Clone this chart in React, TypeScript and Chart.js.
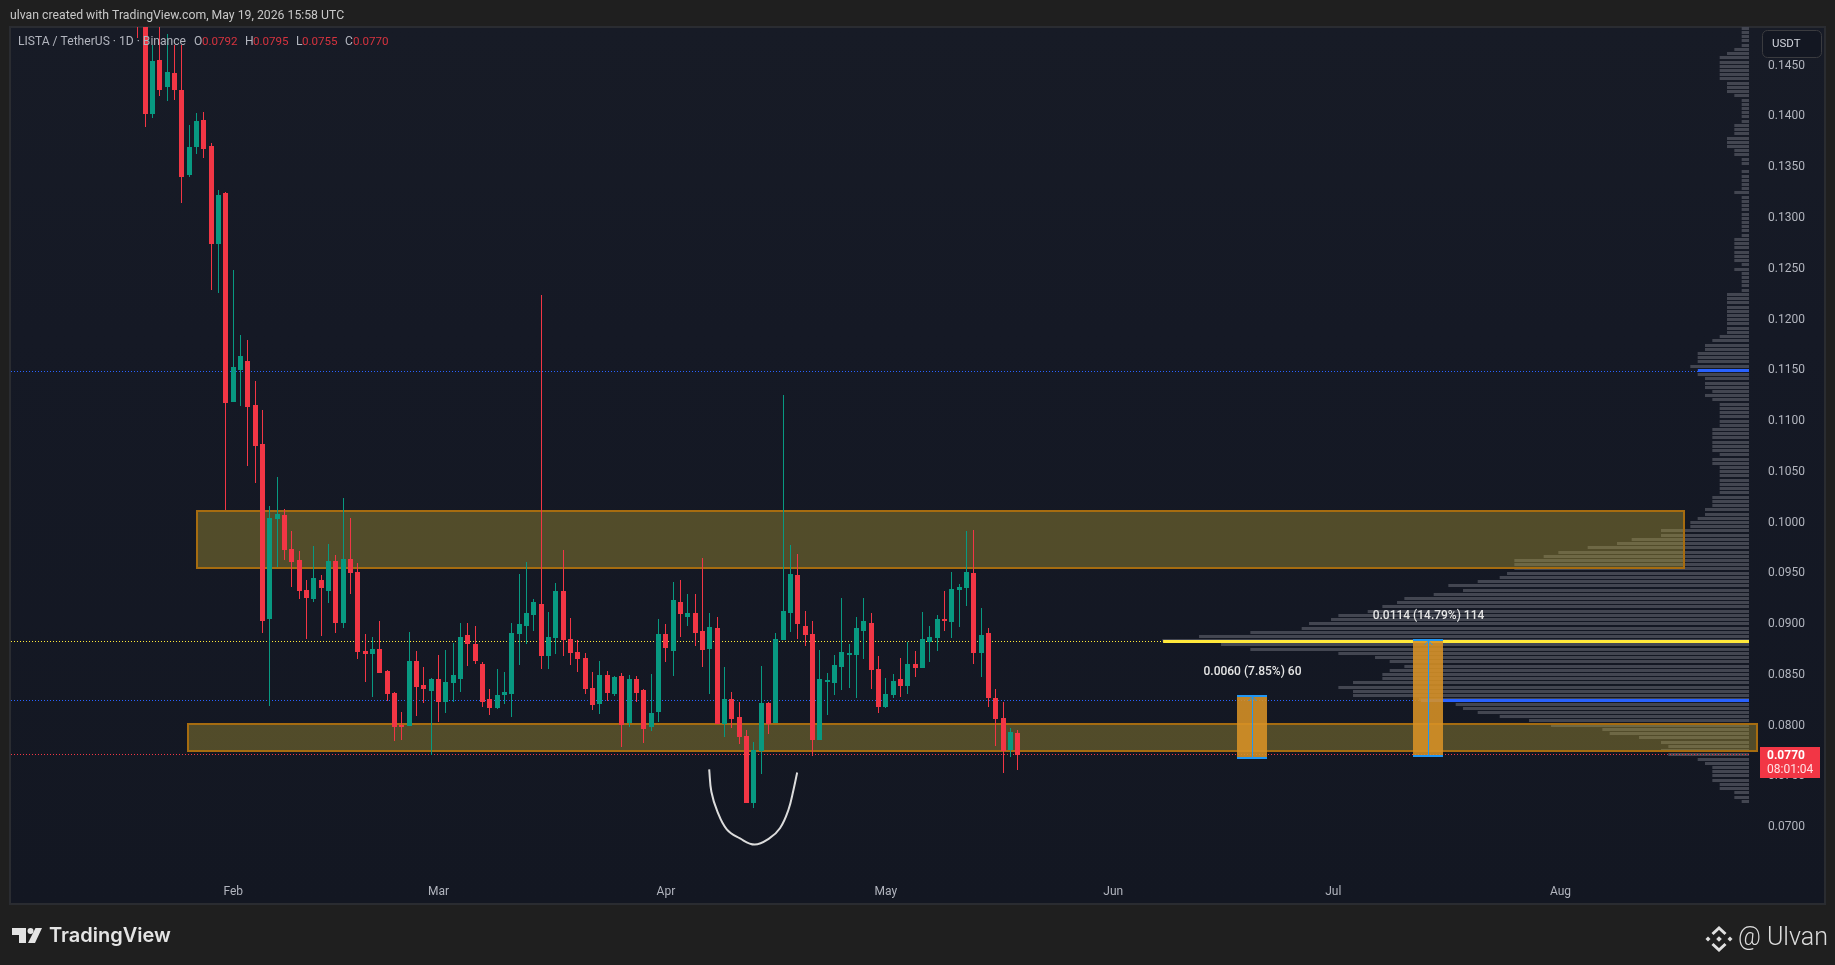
import React, { useEffect, useRef } from "react";
import { Chart, registerables } from "chart.js";

Chart.register(...registerables);

const firstCandleDay = -13;
const candleOpen = [.1550,.1500,.1401,.1455,.1428,.1442,.1425,.1341,.1369,.1396,.1370,.1273,.1324,.1118,.1149,.1158,.1115,.1076,.0904,.1003,.1007,.0973,.0962,.0933,.0924,.0943,.0932,.0961,.0900,.0963,.0950,.0873,.0870,.0875,.0853,.0831,.0800,.0799,.0863,.0839,.0833,.0845,.0822,.0841,.0845,.0888,.0879,.0860,.0825,.0816,.0829,.0830,.0889,.0897,.0908,.0919,.0868,.0885,.0932,.0884,.0872,.0866,.0836,.0820,.0849,.0830,.0848,.0802,.0845,.0834,.0798,.0813,.0889,.0873,.0921,.0906,.0910,.0892,.0875,.0895,.0801,.0825,.0808,.0789,.0723,.0774,.0821,.0802,.0883,.0910,.0947,.0897,.0889,.0785,.0842,.0841,.0857,.0869,.0869,.0892,.0900,.0855,.0817,.0829,.0845,.0838,.0860,.0856,.0881,.0885,.0904,.0901,.0933,.0935,.0949,.0871,.0890,.0826,.0807,.0775,.0792];
const candleClose = [.1520,.1401,.1454,.1425,.1443,.1425,.1339,.1369,.1395,.1367,.1273,.1322,.1117,.1152,.1163,.1113,.1074,.0902,.1004,.1008,.0972,.0960,.0932,.0925,.0944,.0935,.0961,.0900,.0963,.0949,.0872,.0870,.0875,.0851,.0830,.0798,.0798,.0863,.0837,.0835,.0845,.0822,.0842,.0849,.0886,.0879,.0863,.0822,.0816,.0829,.0832,.0890,.0899,.0910,.0921,.0868,.0886,.0932,.0883,.0871,.0865,.0835,.0819,.0849,.0831,.0847,.0800,.0845,.0831,.0796,.0812,.0889,.0876,.0923,.0909,.0910,.0890,.0874,.0896,.0801,.0825,.0806,.0788,.0723,.0775,.0821,.0801,.0884,.0912,.0948,.0899,.0888,.0785,.0845,.0844,.0859,.0872,.0871,.0895,.0902,.0854,.0817,.0830,.0843,.0838,.0860,.0856,.0884,.0886,.0904,.0902,.0934,.0936,.0950,.0871,.0888,.0826,.0806,.0774,.0793,.0770];
const candleHigh = [.1560,.1510,.1469,.1500,.1480,.1469,.1469,.1391,.1402,.1403,.1373,.1327,.1325,.1248,.1184,.1179,.1138,.1110,.1015,.1044,.1012,.0991,.0971,.0943,.0976,.0947,.0978,.0967,.1023,.1004,.0959,.0889,.0886,.0902,.0854,.0832,.0813,.0891,.0873,.0857,.0846,.0869,.0874,.0880,.0900,.0900,.0897,.0862,.0835,.0855,.0852,.0900,.0948,.0960,.0924,.1223,.0911,.0940,.0972,.0905,.0883,.0871,.0852,.0863,.0853,.0848,.0851,.0849,.0848,.0835,.0850,.0904,.0899,.0941,.0943,.0929,.0929,.0964,.0910,.0906,.0857,.0832,.0822,.0795,.0783,.0858,.0822,.0890,.1125,.0977,.0968,.0912,.0902,.0874,.0851,.0869,.0925,.0879,.0906,.0925,.0910,.0868,.0846,.0850,.0866,.0881,.0873,.0911,.0897,.0908,.0932,.0950,.0939,.0991,.0992,.0915,.0895,.0835,.0822,.0797,.0795];
const candleLow = [.1476,.1389,.1397,.1419,.1414,.1415,.1314,.1339,.1362,.1358,.1228,.1225,.1011,.1118,.1114,.1055,.1038,.0890,.0818,.0955,.0962,.0936,.0924,.0884,.0921,.0887,.0920,.0890,.0895,.0929,.0865,.0842,.0827,.0851,.0823,.0784,.0785,.0799,.0809,.0821,.0770,.0803,.0812,.0822,.0832,.0858,.0860,.0817,.0810,.0815,.0820,.0808,.0859,.0879,.0892,.0855,.0855,.0870,.0868,.0859,.0852,.0830,.0814,.0811,.0823,.0828,.0778,.0798,.0822,.0782,.0794,.0803,.0862,.0848,.0886,.0897,.0878,.0857,.0830,.0801,.0788,.0797,.0781,.0723,.0718,.0751,.0791,.0802,.0883,.0891,.0884,.0878,.0769,.0785,.0810,.0829,.0834,.0836,.0826,.0865,.0835,.0812,.0816,.0826,.0827,.0830,.0847,.0856,.0862,.0873,.0892,.0885,.0896,.0917,.0860,.0847,.0817,.0779,.0752,.0768,.0755];

const profileDepth = [
  1,1,1,1,1,2,3,4,4,4,4,4,4,3,3,3,2,1,1,1,1,1,1,2,2,2,3,3,3,2,2,1,1,0,1,1,1,1,1,2,
  1,1,1,1,1,1,1,1,1,1,2,2,2,2,2,2,1,2,1,1,1,1,1,3,3,3,3,3,3,3,3,3,3,4,5,6,6,7,7,7,
  8,7,7,6,6,6,5,6,5,4,4,4,4,4,4,5,5,5,5,5,5,4,5,5,4,
  4,4,4,4,4,4,5,5,5,6,6,7,8,8,12,12,16,18,22,26,28,32,32,32,33,34,37,41,39,43,47,48,50,52,56,57,60,61,68,75,
  80,
  72,68,56,51,49,47,49,50,50,54,56,54,54,45,40,39,37,34,30,27,20,19,15,12,11,12,11,7,6,5,5,5,5,4,4,2,2,1,
];
const profileTopLevel = 0.14859;
const profileRowStep = 0.000416;
const firstVisibleDay = -30.31;
const profileEndDay = 206.7;

const monthDays = [0, 28, 59, 89, 120, 150, 181];
const monthLabels = ["Feb", "Mar", "Apr", "May", "Jun", "Jul", "Aug"];

const dottedLevels = [0.08823, 0.08243, 0.11479, 0.07702];
const dottedEndDays = [126.8, 161.96, 199.74, 206.7];
const dottedColors = ["#ffeb3b", "#2962ff", "#2962ff", "#f23645"];
const solidLevels = [0.0882, 0.08243, 0.11489];
const solidStartDays = [126.8, 161.96, 199.74];
const solidColors = ["#ffe83b", "#2962ff", "#2962ff"];

const zoneTops = [0.10105, 0.0801];
const zoneBottoms = [0.09544, 0.07745];
const zoneStarts = [-5.0, -6.18];
const zoneEnds = [197.8, 207.8];

const measureStarts = [136.85, 160.83];
const measureEnds = [140.96, 164.95];
const measureTops = [0.08279, 0.0883];
const measureBottoms = [0.07672, 0.07692];
const measureLabels = ["0.0060 (7.85%) 60", "0.0114 (14.79%) 114"];

const arcDays = [64.9, 65.2, 66.0, 67.3, 69.1, 71.1, 73.1, 74.55, 75.7, 76.4, 76.9];
const arcPrices = [0.0756, 0.0734, 0.0715, 0.0697, 0.0688, 0.0682, 0.0688, 0.0698, 0.0716, 0.0736, 0.0753];

const SANS = "Roboto, 'Liberation Sans', sans-serif";
const GREEN = "#089981";
const RED = "#f23645";

function text(ctx: CanvasRenderingContext2D, s: string, x: number, y: number, font: string, color: string, align: CanvasTextAlign = "left") {
  ctx.font = font;
  ctx.fillStyle = color;
  ctx.textAlign = align;
  ctx.textBaseline = "middle";
  ctx.fillText(s, x, y);
}

const backgroundPlugin = {
  id: "paneBackground",
  beforeDraw(chart: any) {
    const { ctx, width, height } = chart;
    ctx.save();
    ctx.fillStyle = "#1f1f1f";
    ctx.fillRect(0, 0, width, height);
    const g = ctx.createLinearGradient(0, 27, 0, 904);
    g.addColorStop(0, "#171b26");
    g.addColorStop(0.35, "#151925");
    g.addColorStop(1, "#131722");
    ctx.fillStyle = g;
    ctx.fillRect(10, 27, 1815, 877);
    ctx.strokeStyle = "#2a2c31";
    ctx.lineWidth = 2;
    ctx.strokeRect(10, 27, 1815, 877);
    ctx.restore();
  },
};

const zonesPlugin = {
  id: "zones",
  beforeDatasetDraw(chart: any, args: any) {
    if (chart.data.datasets[args.index].label !== "wicks") return;
    const { ctx, scales } = chart;
    ctx.save();
    zoneTops.forEach((top, i) => {
      const x0 = Math.round(scales.x.getPixelForValue(zoneStarts[i]));
      const x1 = Math.round(scales.x.getPixelForValue(zoneEnds[i]));
      const y0 = Math.round(scales.y.getPixelForValue(top));
      const y1 = Math.round(scales.y.getPixelForValue(zoneBottoms[i]));
      ctx.fillStyle = "rgba(175,154,52,0.4)";
      ctx.fillRect(x0, y0, x1 - x0, y1 - y0);
      ctx.strokeStyle = "#a66c10";
      ctx.lineWidth = 2;
      ctx.strokeRect(x0, y0, x1 - x0, y1 - y0);
    });
    ctx.restore();
  },
};

const overlayPlugin = {
  id: "overlay",
  afterDatasetsDraw(chart: any) {
    const { ctx, scales } = chart;
    ctx.save();
    measureTops.forEach((top, i) => {
      const x0 = Math.round(scales.x.getPixelForValue(measureStarts[i]));
      const x1 = Math.round(scales.x.getPixelForValue(measureEnds[i]));
      const y0 = Math.round(scales.y.getPixelForValue(top));
      const y1 = Math.round(scales.y.getPixelForValue(measureBottoms[i]));
      const cx = Math.floor((x0 + x1) / 2) + 0.5;
      ctx.fillStyle = "rgba(216,146,38,0.88)";
      ctx.fillRect(x0, y0, x1 - x0, y1 - y0);
      ctx.strokeStyle = "#2196f3";
      ctx.lineWidth = 2;
      ctx.beginPath();
      ctx.moveTo(x0, y0);
      ctx.lineTo(x1, y0);
      ctx.moveTo(x0, y1);
      ctx.lineTo(x1, y1);
      ctx.stroke();
      ctx.lineWidth = 1;
      ctx.beginPath();
      ctx.moveTo(cx, y1);
      ctx.lineTo(cx, y0);
      ctx.moveTo(cx - 4, y0 + 5);
      ctx.lineTo(cx, y0 + 1);
      ctx.lineTo(cx + 4, y0 + 5);
      ctx.stroke();
      text(ctx, measureLabels[i], cx, y0 - 24, `500 12px ${SANS}`, "#e6e6e6", "center");
    });
    ctx.restore();
  },
  afterDraw(chart: any) {
    const { ctx } = chart;
    ctx.save();
    // header
    text(ctx, "ulvan created with TradingView.com, May 19, 2026 15:58 UTC", 10, 15.5, `12.25px ${SANS}`, "#c8c8c8");
    // legend
    text(ctx, "LISTA / TetherUS · 1D · Binance", 18, 42, `12.1px ${SANS}`, "#b2b5be");
    const legendLetters = ["O", "H", "L", "C"];
    const legendValues = ["0.0792", "0.0795", "0.0755", "0.0770"];
    const letterX = [194, 245, 296, 345];
    const valueX = [202, 253, 302, 353];
    legendLetters.forEach((l, i) => {
      text(ctx, l, letterX[i], 42, `12.1px ${SANS}`, "#b2b5be");
      text(ctx, legendValues[i], valueX[i], 42, `11.6px ${SANS}`, "#d6333f");
    });
    // price tag
    ctx.fillStyle = RED;
    ctx.fillRect(1760, 747, 60, 31);
    text(ctx, "0.0770", 1767, 756, `bold 12px ${SANS}`, "#ffffff");
    text(ctx, "08:01:04", 1767, 770, `12px ${SANS}`, "#ffe0e3");
    // currency button
    ctx.beginPath();
    ctx.roundRect(1762.5, 30.5, 59, 27, 5);
    ctx.fillStyle = "#131722";
    ctx.fill();
    ctx.strokeStyle = "#3a3b3f";
    ctx.lineWidth = 1;
    ctx.stroke();
    text(ctx, "USDT", 1772, 44.5, `11.5px ${SANS}`, "#d1d4dc");
    // footer: TradingView mark
    ctx.fillStyle = "#e4e4e4";
    ctx.beginPath();
    ctx.moveTo(12, 928);
    ctx.lineTo(26, 928);
    ctx.lineTo(26, 943);
    ctx.lineTo(19, 943);
    ctx.lineTo(19, 935);
    ctx.lineTo(12, 935);
    ctx.closePath();
    ctx.moveTo(35.5, 928);
    ctx.lineTo(42, 928);
    ctx.lineTo(35, 943);
    ctx.lineTo(28, 943);
    ctx.closePath();
    ctx.fill();
    ctx.beginPath();
    ctx.arc(30.5, 931, 3, 0, Math.PI * 2);
    ctx.fill();
    text(ctx, "TradingView", 49, 935.5, `600 20px Inter, ${SANS}`, "#e4e4e4");
    // footer: author mark
    const cx = 1719, cy = 939;
    const diamond = (x: number, y: number, r: number) => {
      ctx.beginPath();
      ctx.moveTo(x, y - r);
      ctx.lineTo(x + r, y);
      ctx.lineTo(x, y + r);
      ctx.lineTo(x - r, y);
      ctx.closePath();
      ctx.fill();
    };
    ctx.fillStyle = "#e0e0e0";
    diamond(cx, cy, 2.8);
    diamond(cx - 11, cy, 2.5);
    diamond(cx + 11, cy, 2.5);
    ctx.strokeStyle = "#e0e0e0";
    ctx.lineWidth = 3;
    ctx.beginPath();
    ctx.moveTo(cx - 6.5, cy - 5);
    ctx.lineTo(cx, cy - 11);
    ctx.lineTo(cx + 6.5, cy - 5);
    ctx.moveTo(cx - 6.5, cy + 5);
    ctx.lineTo(cx, cy + 11);
    ctx.lineTo(cx + 6.5, cy + 5);
    ctx.stroke();
    text(ctx, "@ Ulvan", 1738, 938.5, `300 25px Roboto, sans-serif`, "#dcdcdc");
    ctx.restore();
  },
};

const crispPlugin = {
  id: "crispPixels",
  afterDatasetsUpdate(chart: any) {
    chart.data.datasets.forEach((_: any, i: number) => {
      const meta = chart.getDatasetMeta(i);
      meta.data.forEach((el: any) => {
        if (meta.type === "bar") {
          el.x = Math.floor(el.x) + 0.5;
          el.y = Math.round(el.y);
          el.base = Math.round(el.base);
          if (el.base === el.y) el.base += 1;
        } else if (chart.data.datasets[i].label !== "arc") {
          el.y = Math.floor(el.y) + 0.5;
        }
      });
    });
  },
};

export default function App() {
  const ref = useRef<HTMLCanvasElement>(null);
  useEffect(() => {
    const days = candleOpen.map((_, i) => firstCandleDay + i);
    const barColors = candleOpen.map((o, i) => (candleClose[i] < o ? RED : GREEN));
    const profilePoints: any[] = [];
    profileDepth.forEach((depth, i) => {
      const level = profileTopLevel - profileRowStep * i;
      if (depth > 0) {
        profilePoints.push({ x: profileEndDay - depth, y: level }, { x: profileEndDay, y: level });
      }
      profilePoints.push({ x: profileEndDay, y: null });
    });
    const flat = { pointRadius: 0, pointHoverRadius: 0, fill: false, tension: 0 };
    const chart = new Chart(ref.current as HTMLCanvasElement, {
      type: "bar",
      data: {
        datasets: [
          {
            type: "line", label: "profile", order: 20, data: profilePoints,
            borderColor: "#434651", borderWidth: 3, spanGaps: false, ...flat,
          },
          ...dottedLevels.map((level, i) => ({
            type: "line", label: `dotted${i}`, order: 15,
            data: [{ x: firstVisibleDay, y: level }, { x: dottedEndDays[i], y: level }],
            borderColor: dottedColors[i], borderWidth: 1, borderDash: [1, 2], ...flat,
          })),
          ...solidLevels.map((level, i) => ({
            type: "line", label: `solid${i}`, order: 12,
            data: [{ x: solidStartDays[i], y: level }, { x: profileEndDay, y: level }],
            borderColor: solidColors[i], borderWidth: 3, ...flat,
          })),
          {
            type: "bar", label: "wicks", order: 5, grouped: false,
            data: days.map((d, i) => ({ x: d, y: [candleLow[i], candleHigh[i]] })),
            backgroundColor: barColors, barThickness: 1, borderWidth: 0, inflateAmount: 0,
          },
          {
            type: "bar", label: "bodies", order: 4, grouped: false,
            data: days.map((d, i) => ({ x: d, y: [candleOpen[i], candleClose[i]] })),
            backgroundColor: barColors, barThickness: 5, borderWidth: 0, inflateAmount: 0,
          },
          {
            type: "line", label: "arc", order: 2,
            data: arcDays.map((d, i) => ({ x: d, y: arcPrices[i] })),
            borderColor: "#dcdcdc", borderWidth: 2, pointRadius: 0, fill: false, tension: 0.4,
          },
        ] as any,
      },
      options: {
        responsive: false,
        animation: false,
        devicePixelRatio: 1,
        events: [],
        layout: { padding: { left: 11, top: 27, right: 10, bottom: 61 } },
        plugins: { legend: { display: false }, tooltip: { enabled: false }, title: { display: false } },
        scales: {
          x: {
            type: "linear",
            min: firstVisibleDay,
            max: profileEndDay,
            offset: false,
            grid: { display: false, drawTicks: false },
            border: { display: false },
            afterBuildTicks: (s: any) => {
              s.ticks = monthDays.map((value) => ({ value }));
            },
            afterFit: (s: any) => {
              s.height = 29;
            },
            ticks: {
              autoSkip: false,
              maxRotation: 0,
              padding: 10,
              color: "#b2b5be",
              font: { family: SANS, size: 12 },
              callback: (v: any) => monthLabels[monthDays.indexOf(v)],
            },
          },
          y: {
            type: "linear",
            position: "right",
            min: 0.0652,
            max: 0.14871,
            grid: { display: false, drawTicks: false },
            border: { display: false },
            afterFit: (s: any) => {
              s.width = 76;
            },
            ticks: {
              stepSize: 0.005,
              includeBounds: false,
              padding: 19,
              labelOffset: 1,
              color: "#b2b5be",
              font: { family: SANS, size: 12 },
              callback: (v: any) => Number(v).toFixed(4),
            },
          },
        },
      } as any,
      plugins: [backgroundPlugin, crispPlugin, zonesPlugin, overlayPlugin] as any,
    });
    return () => chart.destroy();
  }, []);
  return (
    <div style={{ position: "fixed", left: 0, top: 0, width: 1835, height: 965 }}>
      <canvas ref={ref} width={1835} height={965} style={{ display: "block" }} />
    </div>
  );
}
